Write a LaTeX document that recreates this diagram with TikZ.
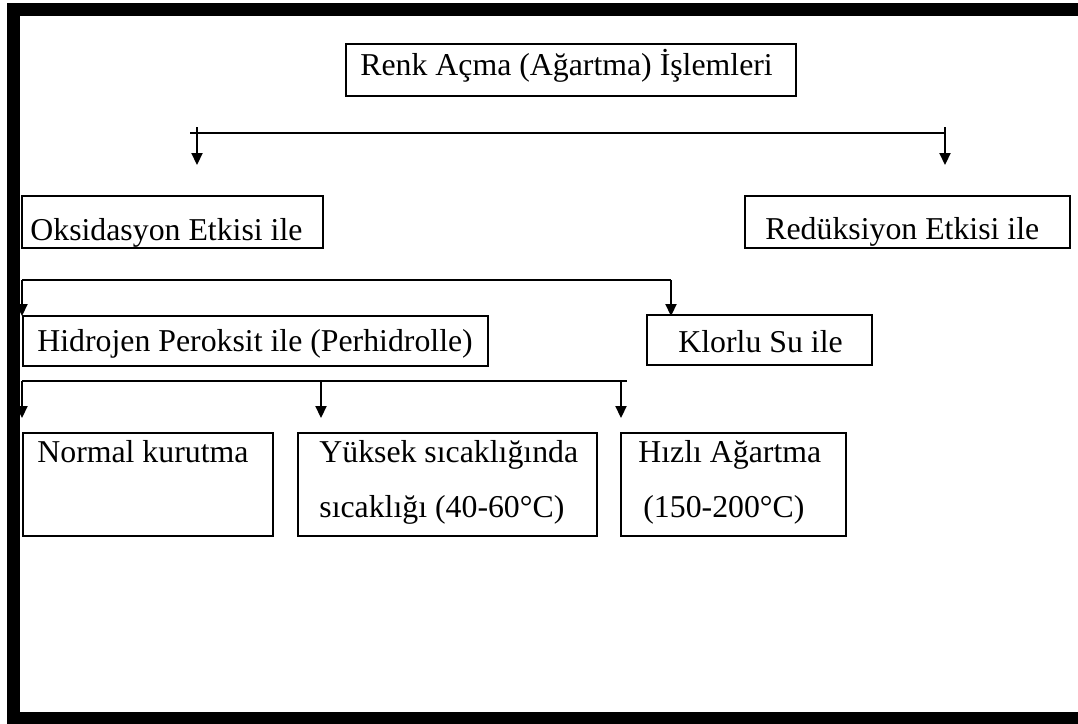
\documentclass[tikz,border=0pt]{standalone}
\usepackage{fontspec}
\setmainfont{Liberation Serif}
\usetikzlibrary{arrows.meta}
\begin{document}
\begin{tikzpicture}[x=0.5pt,y=-0.5pt,
  box/.style={draw, line width=1.2pt, anchor=north west, inner sep=0pt},
  lbl/.style={anchor=base west, inner sep=0pt, font=\fontsize{15.9}{19}\selectfont},
  bus/.style={line width=1.1pt},
  arr/.style={line width=1.1pt, -{Triangle[width=5.5pt,length=6pt]}}]
\useasboundingbox (0,0) rectangle (1078,724);
\fill[white] (0,0) rectangle (1078,724);
% boxes
\node[box, minimum width=225pt, minimum height=26pt] (title) at (345,43) {};
\node[lbl] (titlet) at (360,75) {Renk Açma (Ağartma) İşlemleri};
\node[box, minimum width=150.5pt, minimum height=26pt] (oks) at (21,195) {};
\node[lbl] (okst) at (30,240) {Oksidasyon Etkisi ile};
\node[box, minimum width=162.5pt, minimum height=26pt] (red) at (744,195) {};
\node[lbl] (redt) at (765,239) {Redüksiyon Etkisi ile};
\node[box, minimum width=232.5pt, minimum height=25pt] (hid) at (22,315) {};
\node[lbl] (hidt) at (37,351) {Hidrojen Peroksit ile (Perhidrolle)};
\node[box, minimum width=112.5pt, minimum height=25pt] (klo) at (646,314) {};
\node[lbl] (klot) at (678,352) {Klorlu Su ile};
\node[box, minimum width=125pt, minimum height=51.5pt] (nor) at (22,432) {};
\node[lbl] (nort) at (37,462) {Normal kurutma};
\node[box, minimum width=149.5pt, minimum height=51.5pt] (yuk) at (297,432) {};
\node[lbl] (yukt1) at (319,462) {Yüksek sıcaklığında};
\node[lbl] (yukt2) at (319,517) {sıcaklığı (40-60°C)};
\node[box, minimum width=112.5pt, minimum height=51.5pt] (hiz) at (620,432) {};
\node[lbl] (hizt1) at (638,462) {Hızlı Ağartma};
\node[lbl] (hizt2) at (643,517) {(150-200°C)};
% connector coordinates
\coordinate (b1l) at (190,133);
\coordinate (b1r) at (945,133);
\coordinate (a1s) at (197,127);
\coordinate (a1e) at (197,165);
\coordinate (a2s) at (945,127);
\coordinate (a2e) at (945,165);
\coordinate (b2l) at (22,280);
\coordinate (b2r) at (671,280);
\coordinate (a3e) at (22,316);
\coordinate (a4e) at (671,316);
\coordinate (b3l) at (22,381);
\coordinate (b3r) at (627,381);
\coordinate (b3m) at (321,381);
\coordinate (b3k) at (621,381);
\coordinate (a5e) at (22,418);
\coordinate (a6e) at (321,418);
\coordinate (a7e) at (621,418);
% connectors
\draw[bus] (b1l) -- (b1r);
\draw[arr] (a1s) -- (a1e);
\draw[arr] (a2s) -- (a2e);
\draw[bus] (b2l) -- (b2r);
\draw[arr] (b2l) -- (a3e);
\draw[arr] (b2r) -- (a4e);
\draw[bus] (b3l) -- (b3r);
\draw[arr] (b3l) -- (a5e);
\draw[arr] (b3m) -- (a6e);
\draw[arr] (b3k) -- (a7e);
% frame
\fill[black] (7,3) rectangle (1078,16);
\fill[black] (7,3) rectangle (20,724);
\fill[black] (7,712) rectangle (1078,724);
\end{tikzpicture}
\end{document}
